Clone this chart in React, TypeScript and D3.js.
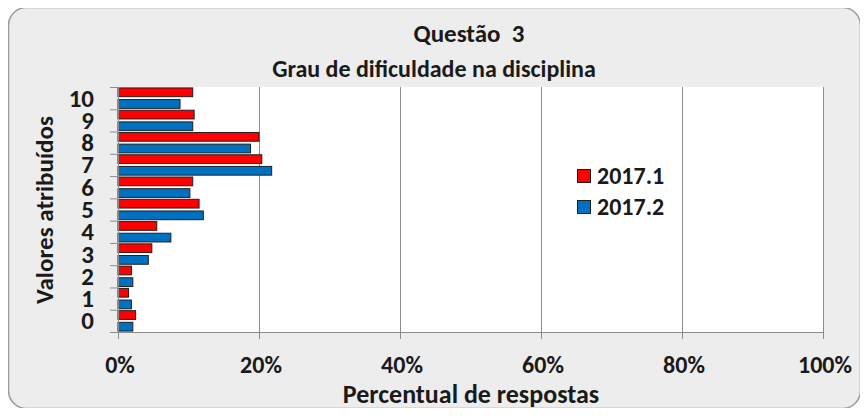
import { useEffect, useRef } from 'react';
import * as d3 from 'd3';

const categories = ['0', '1', '2', '3', '4', '5', '6', '7', '8', '9', '10'];
const series1 = [2.5, 1.5, 1.9, 4.8, 5.5, 11.5, 10.6, 20.4, 20.0, 10.8, 10.6];
const series2 = [2.1, 1.9, 2.1, 4.3, 7.5, 12.1, 10.2, 21.8, 18.8, 10.6, 8.8];
const seriesNames = ['2017.1', '2017.2'];
const xTicks = [0, 20, 40, 60, 80, 100];

const colors = ['#ff0000', '#0070c0'];
const font = 'Carlito, Calibri, "Open Sans", sans-serif';

const App = () => {
  const svgRef = useRef<SVGSVGElement>(null);

  useEffect(() => {
    const svg = d3.select(svgRef.current);
    svg.selectAll('*').remove();

    const W = 868;
    const H = 416;
    const plot = { left: 118, right: 823, top: 87, bottom: 332 };

    svg.attr('width', W).attr('height', H).style('display', 'block');

    // chart background
    svg.append('rect')
      .attr('x', 8.5).attr('y', 7.5)
      .attr('width', 852).attr('height', 401)
      .attr('rx', 18)
      .attr('fill', '#ededed')
      .attr('stroke', '#9a9a9a')
      .attr('stroke-width', 1.5);

    // plot area
    svg.append('rect')
      .attr('x', plot.left).attr('y', plot.top)
      .attr('width', plot.right - plot.left).attr('height', plot.bottom - plot.top)
      .attr('fill', '#ffffff');

    const x = d3.scaleLinear().domain([0, 100]).range([plot.left, plot.right]);
    const y = d3.scaleBand()
      .domain([...categories].reverse())
      .range([plot.top, plot.bottom]);

    const inner = d3.scaleBand()
      .domain(['0', '1'])
      .range([0, y.bandwidth()])
      .paddingInner(0.25)
      .paddingOuter(0.08);

    // gridlines
    svg.append('g')
      .selectAll('line')
      .data(xTicks.slice(1))
      .enter().append('line')
      .attr('x1', d => x(d) + 0.5).attr('x2', d => x(d) + 0.5)
      .attr('y1', plot.top).attr('y2', plot.bottom)
      .attr('stroke', '#8c8c8c').attr('stroke-width', 1);

    // bars
    const data = categories.map((c, i) => ({ c, vals: [series1[i], series2[i]] }));
    data.forEach(d => {
      d.vals.forEach((v, s) => {
        svg.append('rect')
          .attr('x', x(0))
          .attr('y', (y(d.c) as number) + (inner(String(s)) as number))
          .attr('width', x(v) - x(0))
          .attr('height', inner.bandwidth())
          .attr('fill', colors[s])
          .attr('stroke', '#202020')
          .attr('stroke-width', 1);
      });
    });

    // axes lines
    const axisColor = '#8c8c8c';
    svg.append('line')
      .attr('x1', plot.left + 0.5).attr('x2', plot.left + 0.5)
      .attr('y1', plot.top).attr('y2', plot.bottom + 6)
      .attr('stroke', axisColor);
    svg.append('line')
      .attr('x1', plot.left - 8).attr('x2', plot.right)
      .attr('y1', plot.bottom + 0.5).attr('y2', plot.bottom + 0.5)
      .attr('stroke', axisColor);

    // y ticks (band boundaries)
    const bounds = d3.range(categories.length + 1).map(i => plot.top + i * y.step());
    svg.append('g')
      .selectAll('line')
      .data(bounds)
      .enter().append('line')
      .attr('x1', plot.left - 8).attr('x2', plot.left)
      .attr('y1', d => d + 0.5).attr('y2', d => d + 0.5)
      .attr('stroke', axisColor);

    // x ticks
    svg.append('g')
      .selectAll('line')
      .data(xTicks)
      .enter().append('line')
      .attr('x1', d => x(d) + 0.5).attr('x2', d => x(d) + 0.5)
      .attr('y1', plot.bottom).attr('y2', plot.bottom + 7)
      .attr('stroke', axisColor);

    // y labels
    svg.append('g')
      .selectAll('text')
      .data(categories)
      .enter().append('text')
      .attr('x', 94)
      .attr('y', d => (y(d) as number) + y.bandwidth() / 2)
      .attr('dy', '0.34em')
      .attr('text-anchor', 'end')
      .attr('font-family', font)
      .attr('font-weight', 'bold')
      .attr('font-size', 25)
      .attr('fill', '#1a1a1a')
      .text(d => d);

    // x labels
    svg.append('g')
      .selectAll('text')
      .data(xTicks)
      .enter().append('text')
      .attr('x', d => x(d) + 2)
      .attr('y', 373)
      .attr('text-anchor', 'middle')
      .attr('font-family', font)
      .attr('font-weight', 'bold')
      .attr('font-size', 24)
      .attr('fill', '#1a1a1a')
      .text(d => `${d}%`);

    // titles
    const title = svg.append('g')
      .attr('font-family', font)
      .attr('fill', '#1a1a1a')
      .attr('text-anchor', 'middle');
    title.append('text').attr('x', 469).attr('y', 42).attr('font-size', 25)
      .attr('font-weight', 'bold')
      .style('white-space', 'pre').text('Questão  3');
    title.append('text').attr('x', 434).attr('y', 77).attr('font-size', 24)
      .attr('font-weight', 'bold')
      .text('Grau de dificuldade na disciplina');
    title.append('text').attr('x', 471).attr('y', 403).attr('font-size', 26)
      .attr('font-weight', 'bold')
      .text('Percentual de respostas');
    title.append('text')
      .attr('transform', 'translate(53,210) rotate(-90)')
      .attr('font-size', 25)
      .attr('font-weight', 'bold')
      .text('Valores atribuídos');

    // legend
    const legend = svg.append('g');
    seriesNames.forEach((name, i) => {
      const ly = 176 + i * 31;
      legend.append('rect')
        .attr('x', 577.5).attr('y', ly - 6.5)
        .attr('width', 13).attr('height', 13)
        .attr('fill', colors[i])
        .attr('stroke', '#202020');
      legend.append('text')
        .attr('x', 597).attr('y', ly)
        .attr('dy', '0.35em')
        .attr('font-family', font)
        .attr('font-weight', 'bold')
        .attr('font-size', 24)
        .attr('fill', '#1a1a1a')
        .text(name);
    });
  }, []);

  return (
    <div style={{ margin: -8 }}>
      <svg ref={svgRef}></svg>
    </div>
  );
};

export default App;
